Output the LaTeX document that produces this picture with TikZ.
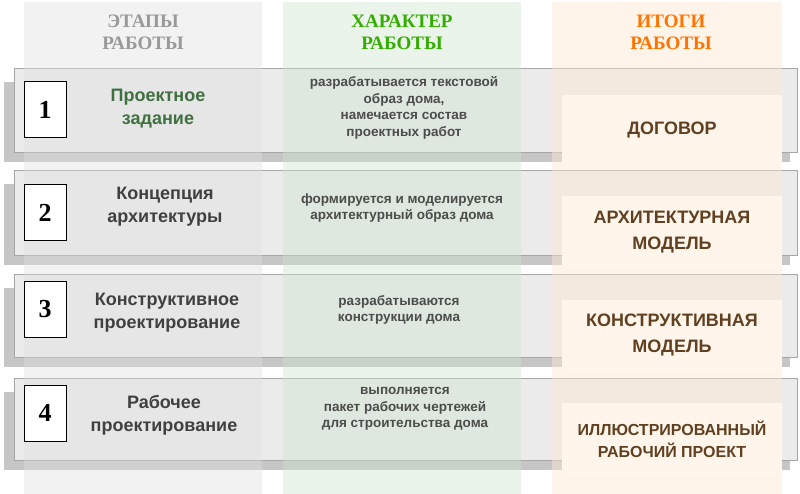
\documentclass[tikz,border=0pt]{standalone}
\usepackage{fontspec}
\setmainfont{Liberation Sans}
\newfontfamily\hdr{Liberation Serif}
\begin{document}
\begin{tikzpicture}[x=1pt,y=-1pt,
  rowbox/.style={draw=gray!70,fill=gray!16,line width=0.8pt},
  shadowbox/.style={fill=gray!45,draw=none},
  numbox/.style={draw=black,fill=white,line width=1pt,minimum width=42pt,minimum height=56pt,inner sep=0pt,font=\hdr\bfseries\fontsize{26}{26}\selectfont},
  title/.style={align=center,font=\bfseries\fontsize{18}{23}\selectfont,text=black!75},
  desc/.style={align=center,font=\bfseries\fontsize{13.5}{16.5}\selectfont,text=black!70},
  res/.style={fill=orange!8,draw=none,minimum width=220pt,inner sep=0pt,align=center,font=\bfseries\fontsize{18}{26}\selectfont,text=brown!50!black},
  head/.style={align=center,font=\hdr\bfseries\fontsize{19}{22}\selectfont}]
\useasboundingbox (0,0) rectangle (800,494);
\fill[white] (0,0) rectangle (800,494);
% rows
\foreach \t/\b in {68/152,170/255,274/357,378/460}{
  \fill[shadowbox] (4,\t+14) rectangle (790,\b+10);
  \draw[rowbox] (14,\t) rectangle (797,\b);
}
% columns
\fill[gray!25,opacity=0.4] (24,2) rectangle (262,494);
\fill[green!50!black!20!white,opacity=0.4] (283,2) rectangle (521,494);
\fill[orange!18,opacity=0.45] (552,2) rectangle (782,494);
\node[head,text=gray!80] (h1) at (143,32) {ЭТАПЫ\\РАБОТЫ};
\node[head,text=green!60!black!80!yellow] (h2) at (402,32) {ХАРАКТЕР\\РАБОТЫ};
\node[head,text=orange!90!red] (h3) at (671,32) {ИТОГИ\\РАБОТЫ};
% numbers
\node[numbox] (n1) at (45,110) {1};
\node[numbox] (n2) at (45,213) {2};
\node[numbox] (n3) at (45,309) {3};
\node[numbox] (n4) at (45,413) {4};
\node[title,text=green!25!black!75] (t1) at (158,109) {Проектное\\задание};
\node[title] (t2) at (165,207) {Концепция\\архитектуры};
\node[title] (t3) at (167,313) {Конструктивное\\проектирование};
\node[title] (t4) at (164,415) {Рабочее\\проектирование};
\node[desc] (d1) at (404,108) {разрабатывается текстовой\\образ дома,\\намечается состав\\проектных работ};
\node[desc] (d2) at (402,208) {формируется и моделируется\\архитектурный образ дома};
\node[desc] (d3) at (399,310) {разрабатываются\\конструкции дома};
\node[desc] (d4) at (405,409) {выполняется\\пакет рабочих чертежей\\для строительства дома};
\node[res,minimum height=69pt] (r1) at (672,130) {ДОГОВОР};
\node[res,minimum height=71pt] (r2) at (672,232) {АРХИТЕКТУРНАЯ\\МОДЕЛЬ};
\node[res,minimum height=71pt] (r3) at (672,335) {КОНСТРУКТИВНАЯ\\МОДЕЛЬ};
\node[res,minimum height=72pt,font=\bfseries\fontsize{16}{22}\selectfont] (r4) at (672,439) {ИЛЛЮСТРИРОВАННЫЙ\\РАБОЧИЙ ПРОЕКТ};
\end{tikzpicture}
\end{document}
